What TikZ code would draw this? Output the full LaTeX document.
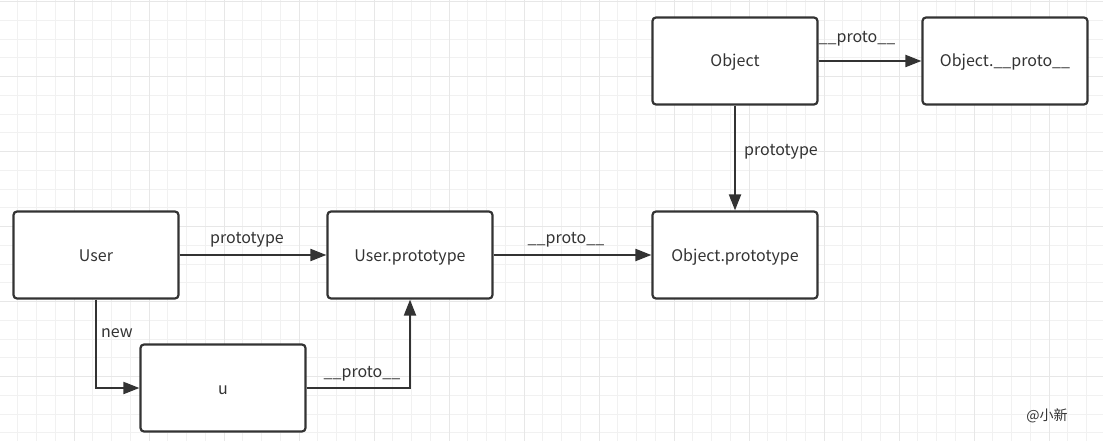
\documentclass[tikz,border=0pt]{standalone}
\usepackage{fontspec}
\setmainfont{Noto Sans CJK SC}
\usetikzlibrary{arrows.meta}
\definecolor{ln}{HTML}{333333}
\definecolor{gminor}{HTML}{F1F1F1}
\definecolor{gmajor}{HTML}{E7E7E7}
\begin{document}
\begin{tikzpicture}[x=1pt,y=-1pt,
  box/.style={draw=ln, line width=2.2pt, rounded corners=3.5pt, minimum width=165pt, minimum height=87pt, inner sep=0pt, fill=white, font=\fontsize{16}{18}\selectfont, text=ln, text height=14pt, text depth=2pt},
  conn/.style={draw=ln, line width=2pt, -{Triangle[length=16pt,width=12pt]}},
  lbl/.style={font=\fontsize{16}{18}\selectfont, text=ln, inner sep=0pt, text height=14pt, text depth=2pt},
  gmin/.style={draw=gminor, line width=1pt},
  gmaj/.style={draw=gmajor, line width=1pt}]
\useasboundingbox (0,0) rectangle (1103,441);
\fill[white] (0,0) rectangle (1103,441);
\foreach \i in {0,...,59} {\draw[gmin] ({-1+18.75*\i},0) -- ({-1+18.75*\i},441);}
\foreach \i in {0,...,23} {\draw[gmin] (0,{1.7+18.75*\i}) -- (1103,{1.7+18.75*\i});}
\foreach \i in {0,...,14} {\draw[gmaj] ({-1+75*\i},0) -- ({-1+75*\i},441);}
\foreach \i in {0,...,5} {\draw[gmaj] (0,{1.7+75*\i}) -- (1103,{1.7+75*\i});}

\node[box] (user) at (96,255) {User};
\node[box] (u) at (223,388) {u};
\node[box] (up) at (410,255) {User.prototype};
\node[box] (op) at (735,255) {Object.prototype};
\node[box] (obj) at (735,61) {Object};
\node[box] (objp) at (1005,61) {Object.\_\_proto\_\_};

\draw[conn] (obj) -- (objp);
\draw[conn] (obj) -- (op);
\draw[conn] (user) -- (up);
\draw[conn] (up) -- (op);
\draw[conn] (user.south) |- (u.west);
\draw[conn] (u.east) -| (up.south);

\node[lbl] (l1) at (857,37) {\_\_proto\_\_};
\node[lbl] (l2) at (781,150) {prototype};
\node[lbl] (l3) at (247,237) {prototype};
\node[lbl] (l4) at (566,237) {\_\_proto\_\_};
\node[lbl] (l5) at (117,331) {new};
\node[lbl] (l6) at (362,371) {\_\_proto\_\_};
\node[lbl, font=\fontsize{14}{16}\selectfont, text height=12pt] (sig) at (1047,415) {@小新};
\end{tikzpicture}
\end{document}
